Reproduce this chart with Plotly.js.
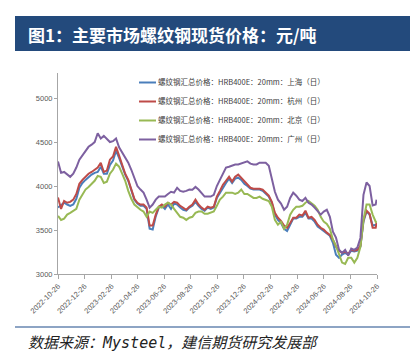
<!DOCTYPE html>
<html><head><meta charset="utf-8">
<script src="https://cdn.plot.ly/plotly-3.0.1.min.js"></script>
<style>html,body{margin:0;padding:0;background:#fff}#chart{width:410px;height:351px}</style>
</head><body><div id="chart"></div>
<script>
const dates = ["2022-10-26","2022-11-02","2022-11-09","2022-11-16","2022-11-23","2022-11-30","2022-12-07","2022-12-14","2022-12-21","2022-12-28",
"2023-01-04","2023-01-11","2023-01-18","2023-01-25","2023-02-01","2023-02-08","2023-02-15","2023-02-22","2023-03-01","2023-03-08",
"2023-03-15","2023-03-22","2023-03-29","2023-04-05","2023-04-12","2023-04-19","2023-04-26","2023-05-03","2023-05-10","2023-05-17",
"2023-05-24","2023-05-31","2023-06-07","2023-06-14","2023-06-21","2023-06-28","2023-07-05","2023-07-12","2023-07-19","2023-07-26",
"2023-08-02","2023-08-09","2023-08-16","2023-08-23","2023-08-30","2023-09-06","2023-09-13","2023-09-20","2023-09-27","2023-10-04",
"2023-10-11","2023-10-18","2023-10-25","2023-11-01","2023-11-08","2023-11-15","2023-11-22","2023-11-29","2023-12-06","2023-12-13",
"2023-12-20","2023-12-27","2024-01-03","2024-01-10","2024-01-17","2024-01-24","2024-01-31","2024-02-07","2024-02-14","2024-02-21",
"2024-02-28","2024-03-06","2024-03-13","2024-03-20","2024-03-27","2024-04-03","2024-04-10","2024-04-17","2024-04-24","2024-05-01",
"2024-05-08","2024-05-15","2024-05-22","2024-05-29","2024-06-05","2024-06-12","2024-06-19","2024-06-26","2024-07-03","2024-07-10",
"2024-07-17","2024-07-24","2024-07-31","2024-08-07","2024-08-14","2024-08-21","2024-08-28","2024-09-04","2024-09-11","2024-09-18",
"2024-09-25","2024-10-02","2024-10-09","2024-10-16","2024-10-23","2024-10-25"];

const shanghai = [3755,3780,3810,3790,3775,3790,3855,3980,4035,4070,
4105,4130,4150,4160,4220,4140,4140,4240,4290,4400,
4320,4220,4130,4060,3945,3845,3800,3775,3775,3740,
3515,3505,3655,3755,3775,3740,3790,3740,3800,3790,
3755,3730,3720,3755,3775,3820,3775,3740,3720,3755,
3740,3755,3865,3925,3990,4035,4085,4035,4085,4095,
4070,4025,4000,3970,3960,3960,3960,3945,3910,3880,
3810,3675,3615,3580,3515,3490,3560,3630,3630,3650,
3650,3695,3630,3630,3595,3540,3515,3490,3460,3435,
3355,3220,3185,3220,3240,3220,3265,3255,3265,3310,
3595,3710,3675,3550,3560,3560];

const hangzhou = [3870,3740,3830,3810,3820,3845,3910,4025,4070,4105,
4140,4160,4185,4210,4265,4160,4175,4300,4335,4445,
4345,4230,4140,4070,3960,3855,3810,3790,3790,3755,
3550,3550,3675,3765,3790,3765,3810,3790,3820,3810,
3775,3755,3730,3765,3790,3845,3790,3755,3730,3765,
3755,3765,3880,3945,4015,4060,4105,4050,4105,4130,
4095,4050,4025,3980,3970,3970,3970,3960,3925,3890,
3820,3695,3640,3605,3550,3525,3580,3640,3640,3675,
3665,3720,3640,3650,3615,3560,3525,3505,3470,3445,
3390,3310,3265,3240,3255,3230,3275,3265,3275,3320,
3615,3720,3685,3525,3525,3580];

const beijing = [3660,3615,3630,3675,3695,3720,3740,3845,3910,3960,
3990,4025,4060,4115,4105,4035,4050,4140,4185,4255,
4220,4140,4060,3945,3855,3790,3755,3730,3710,3650,
3710,3695,3730,3765,3755,3790,3810,3790,3740,3695,
3650,3640,3615,3640,3650,3695,3710,3710,3685,3685,
3695,3710,3775,3845,3880,3925,3925,3925,3910,3925,
3960,3910,3910,3890,3865,3865,3880,3855,3845,3830,
3765,3615,3560,3595,3515,3560,3675,3730,3765,3765,
3775,3810,3830,3800,3775,3730,3650,3595,3570,3515,
3390,3320,3220,3130,3115,3185,3185,3130,3185,3310,
3615,3790,3790,3675,3595,3580];

const guangzhou = [4280,4150,4160,4130,4105,4140,4210,4300,4345,4390,
4446,4470,4500,4600,4540,4570,4540,4500,4510,4540,
4440,4380,4320,4265,4185,4095,4000,3960,3925,3845,
3755,3790,3845,3880,3880,3880,3910,3935,3925,3980,
3945,3935,3945,3960,3958,3990,3960,3915,3880,3880,
3880,3900,4000,4070,4150,4210,4220,4230,4245,4245,
4255,4265,4280,4255,4245,4245,4265,4265,4265,4230,
4070,3935,3845,3800,3730,3765,3865,3925,3890,3845,
3830,3865,3810,3790,3755,3710,3675,3710,3730,3650,
3480,3415,3275,3240,3275,3210,3290,3275,3300,3410,
3900,4040,4000,3780,3790,3845];

const seriesNames = [
  "螺纹钢汇总价格：HRB400E：20mm：上海（日）",
  "螺纹钢汇总价格：HRB400E：20mm：杭州（日）",
  "螺纹钢汇总价格：HRB400E：20mm：北京（日）",
  "螺纹钢汇总价格：HRB400E：20mm：广州（日）"
];
const yTicks = [3000, 3500, 4000, 4500, 5000];
const xTicks = ["2022-10-26","2022-12-26","2023-02-26","2023-04-26","2023-06-26","2023-08-26","2023-10-26","2023-12-26","2024-02-26","2024-04-26","2024-06-26","2024-08-26","2024-10-26"];

const colors = ["#4A7EBB", "#BE4B48", "#98B954", "#7D60A0"];
const allSeries = [shanghai, hangzhou, beijing, guangzhou];

const traces = allSeries.map((s, i) => ({
  x: dates, y: s, name: seriesNames[i], type: "scatter", mode: "lines",
  line: {color: colors[i], width: 2}
}));

// pixel -> paper helpers
const L = 58, R = 33, T = 73, B = 77, W = 410, H = 351;
const pw = W - L - R, ph = H - T - B;
const px = v => (v - L) / pw;
const py = v => (H - B - v) / ph;

const layout = {
  width: W, height: H,
  margin: {l: L, r: R, t: T, b: B, pad: 0},
  paper_bgcolor: "#ffffff", plot_bgcolor: "#ffffff",
  font: {family: "Noto Sans CJK SC, DejaVu Sans, sans-serif", color: "#404040"},
  showlegend: true,
  legend: {
    x: px(118), y: py(68), xanchor: "left", yanchor: "top",
    bgcolor: "rgba(0,0,0,0)", font: {size: 7.5, color: "#404040", family: "Noto Sans CJK SC, sans-serif"},
    itemwidth: 30, tracegroupgap: 0
  },
  xaxis: {
    type: "date", range: ["2022-10-26", "2024-10-26"],
    tickmode: "array", tickvals: xTicks, ticktext: xTicks,
    tickangle: -45, tickfont: {size: 7.5, color: "#595959", family: "Liberation Sans, Arial, sans-serif"},
    ticks: "outside", ticklen: 4, tickcolor: "#A6A6A6",
    showline: true, linecolor: "#A6A6A6", linewidth: 1, showgrid: false, zeroline: false
  },
  yaxis: {
    range: [3000, 5285], tickmode: "array", tickvals: yTicks,
    tickfont: {size: 7.5, color: "#595959", family: "Liberation Sans, Arial, sans-serif"},
    ticks: "outside", ticklen: 3, tickcolor: "#A6A6A6",
    showline: true, linecolor: "#A6A6A6", linewidth: 1, showgrid: false, zeroline: false
  },
  shapes: [
    {type: "rect", xref: "paper", yref: "paper", x0: px(15), x1: px(410), y0: py(51), y1: py(16),
     fillcolor: "#234A7C", line: {width: 0}, layer: "above"},
    {type: "line", xref: "paper", yref: "paper", x0: px(15), x1: px(410), y0: py(327), y1: py(327),
     line: {color: "#8DA4C4", width: 2}}
  ],
  annotations: [
    {xref: "paper", yref: "paper", x: px(26), y: py(34), xanchor: "left", yanchor: "middle", showarrow: false,
     text: "<b>图1：主要市场螺纹钢现货价格：元/吨</b>",
     font: {size: 17, color: "#ffffff", family: "Noto Sans CJK SC, sans-serif"}},
    {xref: "paper", yref: "paper", x: px(26), y: py(341), xanchor: "left", yanchor: "middle", showarrow: false,
     text: "<i>数据来源：<span style=\"font-family:'DejaVu Sans Mono',monospace\">Mysteel</span>，建信期货研究发展部</i>",
     font: {size: 15, color: "#222222", family: "Noto Sans CJK SC, sans-serif"}}
  ]
};

Plotly.newPlot("chart", traces, layout, {staticPlot: true, displayModeBar: false}).then(() => {
  document.querySelectorAll("#chart .legend .legendlines path").forEach(p => {
    p.setAttribute("d", "M21,0h17");
  });
});
</script>
</body></html>
